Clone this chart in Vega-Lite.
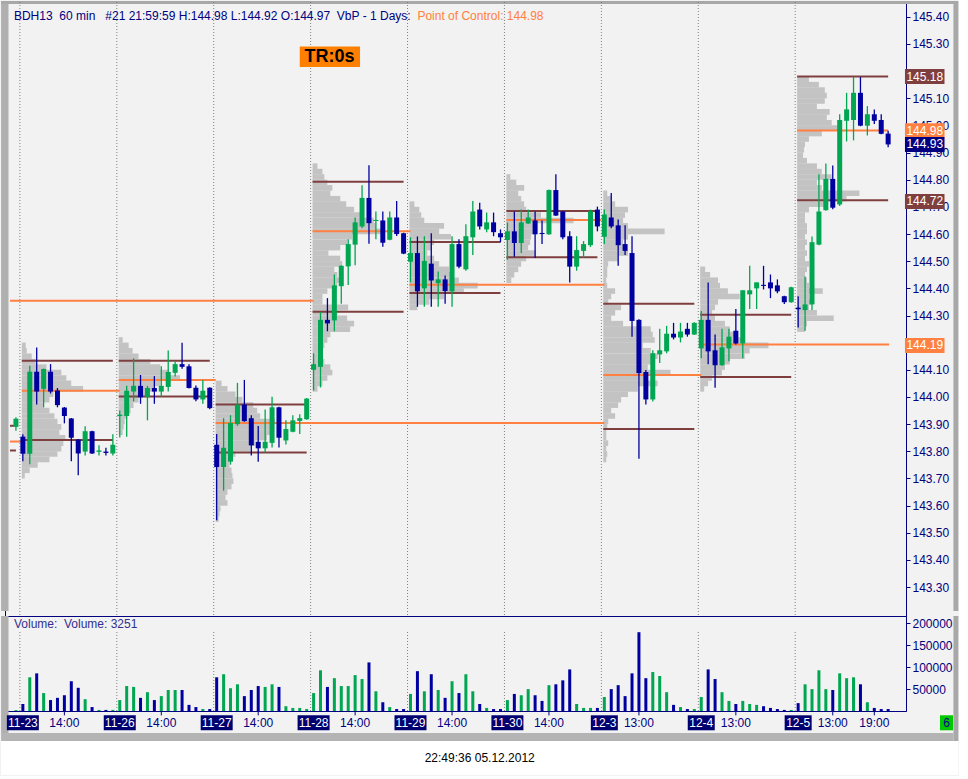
{
"$schema":"https://vega.github.io/schema/vega-lite/v6.json",
"background":"#f2f2f2",
"padding":0,
"autosize":{"type":"pad"},
"spacing":0,
"bounds":"flush",
"config":{"view":{"stroke":"#000080","fill":"#f2f2f2","strokeWidth":1},"font":"Liberation Sans"},
"datasets":{
"bars":[
{"i":0,"o":143.89,"h":143.925,"l":143.876,"c":143.92,"v":2000,"d":"g"},
{"i":1,"o":143.854,"h":143.863,"l":143.763,"c":143.791,"v":16000,"d":"b"},
{"i":2,"o":143.791,"h":144.115,"l":143.752,"c":144.093,"v":77000,"d":"g"},
{"i":3,"o":144.093,"h":144.182,"l":143.972,"c":144.02,"v":86000,"d":"b"},
{"i":4,"o":144.03,"h":144.105,"l":143.962,"c":144.103,"v":41000,"d":"g"},
{"i":5,"o":144.093,"h":144.121,"l":144.013,"c":144.02,"v":25000,"d":"b"},
{"i":6,"o":144.024,"h":144.033,"l":143.962,"c":143.97,"v":30000,"d":"b"},
{"i":7,"o":143.961,"h":143.963,"l":143.903,"c":143.93,"v":36000,"d":"b"},
{"i":8,"o":143.921,"h":143.923,"l":143.763,"c":143.85,"v":68000,"d":"b"},
{"i":9,"o":143.843,"h":143.845,"l":143.712,"c":143.792,"v":53000,"d":"b"},
{"i":10,"o":143.799,"h":143.892,"l":143.785,"c":143.874,"v":27000,"d":"g"},
{"i":11,"o":143.874,"h":143.876,"l":143.79,"c":143.792,"v":9000,"d":"b"},
{"i":12,"o":143.798,"h":143.822,"l":143.785,"c":143.803,"v":2500,"d":"g"},
{"i":13,"o":143.799,"h":143.813,"l":143.785,"c":143.794,"v":2500,"d":"b"},
{"i":14,"o":143.792,"h":143.863,"l":143.785,"c":143.824,"v":2500,"d":"g"},
{"i":15,"o":143.93,"h":143.95,"l":143.851,"c":143.935,"v":25000,"d":"g"},
{"i":16,"o":143.93,"h":144.041,"l":143.854,"c":144.023,"v":57000,"d":"g"},
{"i":17,"o":144.02,"h":144.142,"l":143.984,"c":144.041,"v":55000,"d":"g"},
{"i":18,"o":144.041,"h":144.081,"l":143.975,"c":143.999,"v":30000,"d":"b"},
{"i":19,"o":143.999,"h":144.041,"l":143.914,"c":144.033,"v":43000,"d":"g"},
{"i":20,"o":144.033,"h":144.077,"l":143.975,"c":144.02,"v":25000,"d":"b"},
{"i":21,"o":144.02,"h":144.113,"l":144.002,"c":144.041,"v":34000,"d":"g"},
{"i":22,"o":144.037,"h":144.171,"l":144.02,"c":144.092,"v":48000,"d":"g"},
{"i":23,"o":144.089,"h":144.132,"l":144.075,"c":144.121,"v":48000,"d":"g"},
{"i":24,"o":144.121,"h":144.2,"l":144.104,"c":144.111,"v":48000,"d":"b"},
{"i":25,"o":144.113,"h":144.121,"l":144.031,"c":144.033,"v":14000,"d":"b"},
{"i":26,"o":144.034,"h":144.042,"l":143.984,"c":143.991,"v":9000,"d":"b"},
{"i":27,"o":143.991,"h":144.063,"l":143.975,"c":144.023,"v":4500,"d":"g"},
{"i":28,"o":144.034,"h":144.036,"l":143.955,"c":143.959,"v":4500,"d":"b"},
{"i":29,"o":143.824,"h":143.864,"l":143.546,"c":143.742,"v":77000,"d":"b"},
{"i":30,"o":143.742,"h":143.922,"l":143.655,"c":143.813,"v":84000,"d":"g"},
{"i":31,"o":143.762,"h":143.933,"l":143.751,"c":143.904,"v":52000,"d":"g"},
{"i":32,"o":143.9,"h":144.052,"l":143.894,"c":143.972,"v":61000,"d":"g"},
{"i":33,"o":143.972,"h":144.063,"l":143.909,"c":143.911,"v":34000,"d":"b"},
{"i":34,"o":143.922,"h":143.933,"l":143.785,"c":143.822,"v":48000,"d":"b"},
{"i":35,"o":143.835,"h":143.893,"l":143.762,"c":143.811,"v":57000,"d":"b"},
{"i":36,"o":143.811,"h":143.954,"l":143.796,"c":143.835,"v":55000,"d":"g"},
{"i":37,"o":143.831,"h":144.001,"l":143.814,"c":143.962,"v":61000,"d":"g"},
{"i":38,"o":143.962,"h":143.964,"l":143.814,"c":143.85,"v":55000,"d":"b"},
{"i":39,"o":143.84,"h":143.914,"l":143.825,"c":143.882,"v":11000,"d":"g"},
{"i":40,"o":143.872,"h":143.933,"l":143.87,"c":143.914,"v":7000,"d":"g"},
{"i":41,"o":143.912,"h":143.936,"l":143.864,"c":143.922,"v":7000,"d":"g"},
{"i":42,"o":143.918,"h":143.996,"l":143.916,"c":143.994,"v":4500,"d":"g"},
{"i":43,"o":144.1,"h":144.161,"l":144.024,"c":144.121,"v":41000,"d":"g"},
{"i":44,"o":144.111,"h":144.313,"l":144.035,"c":144.284,"v":93000,"d":"g"},
{"i":45,"o":144.284,"h":144.364,"l":144.242,"c":144.271,"v":55000,"d":"b"},
{"i":46,"o":144.282,"h":144.451,"l":144.242,"c":144.411,"v":75000,"d":"g"},
{"i":47,"o":144.408,"h":144.485,"l":144.343,"c":144.483,"v":57000,"d":"g"},
{"i":48,"o":144.481,"h":144.581,"l":144.412,"c":144.563,"v":57000,"d":"g"},
{"i":49,"o":144.561,"h":144.661,"l":144.485,"c":144.643,"v":82000,"d":"g"},
{"i":50,"o":144.628,"h":144.78,"l":144.621,"c":144.733,"v":73000,"d":"g"},
{"i":51,"o":144.733,"h":144.853,"l":144.564,"c":144.64,"v":111000,"d":"b"},
{"i":52,"o":144.648,"h":144.683,"l":144.581,"c":144.652,"v":45000,"d":"g"},
{"i":53,"o":144.65,"h":144.683,"l":144.553,"c":144.568,"v":20000,"d":"b"},
{"i":54,"o":144.579,"h":144.683,"l":144.577,"c":144.661,"v":9000,"d":"g"},
{"i":55,"o":144.661,"h":144.722,"l":144.593,"c":144.6,"v":4500,"d":"b"},
{"i":56,"o":144.603,"h":144.605,"l":144.526,"c":144.528,"v":4500,"d":"b"},
{"i":57,"o":144.498,"h":144.588,"l":144.422,"c":144.53,"v":39000,"d":"g"},
{"i":58,"o":144.53,"h":144.591,"l":144.332,"c":144.389,"v":91000,"d":"b"},
{"i":59,"o":144.4,"h":144.592,"l":144.332,"c":144.501,"v":45000,"d":"g"},
{"i":60,"o":144.491,"h":144.603,"l":144.332,"c":144.429,"v":84000,"d":"b"},
{"i":61,"o":144.419,"h":144.462,"l":144.332,"c":144.433,"v":48000,"d":"g"},
{"i":62,"o":144.433,"h":144.447,"l":144.343,"c":144.39,"v":30000,"d":"b"},
{"i":63,"o":144.389,"h":144.592,"l":144.332,"c":144.563,"v":68000,"d":"g"},
{"i":64,"o":144.563,"h":144.581,"l":144.474,"c":144.48,"v":41000,"d":"b"},
{"i":65,"o":144.47,"h":144.636,"l":144.465,"c":144.592,"v":84000,"d":"g"},
{"i":66,"o":144.588,"h":144.722,"l":144.523,"c":144.683,"v":45000,"d":"g"},
{"i":67,"o":144.69,"h":144.715,"l":144.617,"c":144.628,"v":16000,"d":"b"},
{"i":68,"o":144.617,"h":144.679,"l":144.607,"c":144.643,"v":7000,"d":"g"},
{"i":69,"o":144.643,"h":144.679,"l":144.592,"c":144.607,"v":4500,"d":"b"},
{"i":70,"o":144.603,"h":144.617,"l":144.57,"c":144.588,"v":4500,"d":"b"},
{"i":71,"o":144.578,"h":144.643,"l":144.505,"c":144.61,"v":25000,"d":"g"},
{"i":72,"o":144.61,"h":144.683,"l":144.516,"c":144.567,"v":39000,"d":"b"},
{"i":73,"o":144.567,"h":144.69,"l":144.53,"c":144.643,"v":36000,"d":"g"},
{"i":74,"o":144.639,"h":144.69,"l":144.637,"c":144.661,"v":50000,"d":"g"},
{"i":75,"o":144.65,"h":144.683,"l":144.512,"c":144.599,"v":36000,"d":"b"},
{"i":76,"o":144.604,"h":144.65,"l":144.563,"c":144.6,"v":23000,"d":"b"},
{"i":77,"o":144.599,"h":144.764,"l":144.597,"c":144.762,"v":59000,"d":"g"},
{"i":78,"o":144.762,"h":144.82,"l":144.666,"c":144.668,"v":61000,"d":"b"},
{"i":79,"o":144.683,"h":144.685,"l":144.581,"c":144.588,"v":70000,"d":"b"},
{"i":80,"o":144.592,"h":144.61,"l":144.422,"c":144.48,"v":95000,"d":"b"},
{"i":81,"o":144.48,"h":144.592,"l":144.465,"c":144.541,"v":16000,"d":"g"},
{"i":82,"o":144.538,"h":144.574,"l":144.512,"c":144.563,"v":7000,"d":"g"},
{"i":83,"o":144.559,"h":144.69,"l":144.552,"c":144.683,"v":7000,"d":"g"},
{"i":84,"o":144.69,"h":144.701,"l":144.61,"c":144.628,"v":7000,"d":"b"},
{"i":85,"o":144.59,"h":144.69,"l":144.563,"c":144.672,"v":32000,"d":"g"},
{"i":86,"o":144.661,"h":144.751,"l":144.621,"c":144.628,"v":50000,"d":"b"},
{"i":87,"o":144.632,"h":144.654,"l":144.483,"c":144.559,"v":59000,"d":"b"},
{"i":88,"o":144.563,"h":144.632,"l":144.523,"c":144.538,"v":34000,"d":"b"},
{"i":89,"o":144.53,"h":144.592,"l":144.222,"c":144.28,"v":86000,"d":"b"},
{"i":90,"o":144.284,"h":144.286,"l":143.773,"c":144.088,"v":180000,"d":"b"},
{"i":91,"o":144.092,"h":144.099,"l":143.972,"c":143.991,"v":75000,"d":"b"},
{"i":92,"o":143.991,"h":144.172,"l":143.983,"c":144.161,"v":89000,"d":"g"},
{"i":93,"o":144.157,"h":144.251,"l":144.125,"c":144.172,"v":80000,"d":"g"},
{"i":94,"o":144.168,"h":144.262,"l":144.161,"c":144.233,"v":43000,"d":"g"},
{"i":95,"o":144.233,"h":144.273,"l":144.212,"c":144.219,"v":14000,"d":"b"},
{"i":96,"o":144.219,"h":144.273,"l":144.201,"c":144.241,"v":9000,"d":"g"},
{"i":97,"o":144.251,"h":144.273,"l":144.222,"c":144.23,"v":4500,"d":"b"},
{"i":98,"o":144.23,"h":144.275,"l":144.228,"c":144.273,"v":4500,"d":"g"},
{"i":99,"o":144.179,"h":144.317,"l":144.143,"c":144.284,"v":32000,"d":"g"},
{"i":100,"o":144.284,"h":144.422,"l":144.121,"c":144.168,"v":95000,"d":"b"},
{"i":101,"o":144.172,"h":144.23,"l":144.034,"c":144.117,"v":73000,"d":"b"},
{"i":102,"o":144.117,"h":144.251,"l":144.115,"c":144.183,"v":43000,"d":"g"},
{"i":103,"o":144.179,"h":144.251,"l":144.132,"c":144.222,"v":23000,"d":"g"},
{"i":104,"o":144.244,"h":144.324,"l":144.193,"c":144.197,"v":16000,"d":"b"},
{"i":105,"o":144.197,"h":144.393,"l":144.143,"c":144.393,"v":23000,"d":"g"},
{"i":106,"o":144.378,"h":144.483,"l":144.324,"c":144.393,"v":16000,"d":"g"},
{"i":107,"o":144.4,"h":144.422,"l":144.324,"c":144.422,"v":14000,"d":"g"},
{"i":108,"o":144.413,"h":144.483,"l":144.396,"c":144.409,"v":11000,"d":"b"},
{"i":109,"o":144.422,"h":144.451,"l":144.364,"c":144.4,"v":7000,"d":"b"},
{"i":110,"o":144.411,"h":144.433,"l":144.382,"c":144.389,"v":4500,"d":"b"},
{"i":111,"o":144.371,"h":144.373,"l":144.342,"c":144.349,"v":2500,"d":"b"},
{"i":112,"o":144.349,"h":144.406,"l":144.347,"c":144.404,"v":2500,"d":"g"},
{"i":113,"o":144.329,"h":144.371,"l":144.256,"c":144.323,"v":18000,"d":"b"},
{"i":114,"o":144.32,"h":144.444,"l":144.244,"c":144.341,"v":61000,"d":"g"},
{"i":115,"o":144.341,"h":144.591,"l":144.32,"c":144.57,"v":50000,"d":"g"},
{"i":116,"o":144.561,"h":144.82,"l":144.559,"c":144.683,"v":93000,"d":"g"},
{"i":117,"o":144.688,"h":144.86,"l":144.686,"c":144.803,"v":50000,"d":"g"},
{"i":118,"o":144.803,"h":144.852,"l":144.691,"c":144.697,"v":48000,"d":"b"},
{"i":119,"o":144.709,"h":145.041,"l":144.703,"c":145.02,"v":86000,"d":"g"},
{"i":120,"o":145.017,"h":145.12,"l":144.941,"c":145.059,"v":75000,"d":"g"},
{"i":121,"o":145.02,"h":145.178,"l":144.945,"c":145.12,"v":77000,"d":"g"},
{"i":122,"o":145.12,"h":145.178,"l":144.997,"c":144.999,"v":61000,"d":"b"},
{"i":123,"o":144.999,"h":145.071,"l":144.963,"c":145.041,"v":20000,"d":"g"},
{"i":124,"o":145.041,"h":145.059,"l":145.005,"c":145.017,"v":7000,"d":"b"},
{"i":125,"o":145.02,"h":145.041,"l":144.967,"c":144.969,"v":4500,"d":"b"},
{"i":126,"o":144.97,"h":144.98,"l":144.92,"c":144.93,"v":4500,"d":"b"}
],
"prof":[
{"s":0.85,"e":1.42,"p":144.19},{"s":0.85,"e":1.56,"p":144.17},{"s":0.85,"e":2.28,"p":144.15},{"s":0.85,"e":2.85,"p":144.13},{"s":0.85,"e":4.42,"p":144.11},{"s":0.85,"e":6.56,"p":144.09},{"s":0.85,"e":7.28,"p":144.07},{"s":0.85,"e":7.99,"p":144.05},{"s":0.85,"e":9.71,"p":144.03},{"s":0.85,"e":5.42,"p":144.01},{"s":0.85,"e":4.85,"p":143.99},{"s":0.85,"e":4.0,"p":143.97},{"s":0.85,"e":4.85,"p":143.95},{"s":0.85,"e":5.56,"p":143.93},{"s":0.85,"e":6.0,"p":143.91},{"s":0.85,"e":6.56,"p":143.89},{"s":0.85,"e":6.28,"p":143.87},{"s":0.85,"e":7.14,"p":143.85},{"s":0.85,"e":6.85,"p":143.83},{"s":0.85,"e":6.56,"p":143.81},{"s":0.85,"e":6.0,"p":143.79},{"s":0.85,"e":4.85,"p":143.77},{"s":0.85,"e":3.14,"p":143.75},{"s":0.85,"e":1.99,"p":143.73},{"s":0.85,"e":1.28,"p":143.71},
{"s":14.85,"e":15.42,"p":144.21},{"s":14.85,"e":16.28,"p":144.19},{"s":14.85,"e":16.85,"p":144.17},{"s":14.85,"e":17.71,"p":144.15},{"s":14.85,"e":19.42,"p":144.13},{"s":14.85,"e":20.85,"p":144.11},{"s":14.85,"e":21.99,"p":144.09},{"s":14.85,"e":23.71,"p":144.07},{"s":14.85,"e":20.85,"p":144.05},{"s":14.85,"e":19.99,"p":144.03},{"s":14.85,"e":18.85,"p":144.01},{"s":14.85,"e":17.71,"p":143.99},{"s":14.85,"e":16.99,"p":143.97},{"s":14.85,"e":16.56,"p":143.95},{"s":14.85,"e":15.99,"p":143.93},{"s":14.85,"e":15.71,"p":143.91},{"s":14.85,"e":15.56,"p":143.89},{"s":14.85,"e":15.42,"p":143.87},
{"s":28.85,"e":29.71,"p":144.05},{"s":28.85,"e":30.56,"p":144.03},{"s":28.85,"e":31.71,"p":144.01},{"s":28.85,"e":32.71,"p":143.99},{"s":28.85,"e":34.28,"p":143.97},{"s":28.85,"e":34.85,"p":143.95},{"s":28.85,"e":35.28,"p":143.93},{"s":28.85,"e":37.42,"p":143.91},{"s":28.85,"e":36.71,"p":143.89},{"s":28.85,"e":36.71,"p":143.87},{"s":28.85,"e":36.28,"p":143.85},{"s":28.85,"e":34.56,"p":143.83},{"s":28.85,"e":33.85,"p":143.81},{"s":28.85,"e":31.71,"p":143.79},{"s":28.85,"e":30.85,"p":143.77},{"s":28.85,"e":30.85,"p":143.75},{"s":28.85,"e":31.14,"p":143.73},{"s":28.85,"e":31.28,"p":143.71},{"s":28.85,"e":31.42,"p":143.69},{"s":28.85,"e":31.14,"p":143.67},{"s":28.85,"e":30.56,"p":143.65},{"s":28.85,"e":30.28,"p":143.63},{"s":28.85,"e":30.56,"p":143.61},{"s":28.85,"e":29.56,"p":143.59},{"s":28.85,"e":29.42,"p":143.57},{"s":28.85,"e":29.28,"p":143.55},
{"s":42.85,"e":43.56,"p":144.85},{"s":42.85,"e":44.28,"p":144.83},{"s":42.85,"e":44.56,"p":144.81},{"s":42.85,"e":44.99,"p":144.79},{"s":42.85,"e":45.71,"p":144.77},{"s":42.85,"e":45.42,"p":144.75},{"s":42.85,"e":46.85,"p":144.73},{"s":42.85,"e":47.71,"p":144.71},{"s":42.85,"e":48.85,"p":144.69},{"s":42.85,"e":50.28,"p":144.67},{"s":42.85,"e":51.71,"p":144.65},{"s":42.85,"e":51.99,"p":144.63},{"s":42.85,"e":52.85,"p":144.61},{"s":42.85,"e":48.56,"p":144.59},{"s":42.85,"e":47.85,"p":144.57},{"s":42.85,"e":46.85,"p":144.55},{"s":42.85,"e":45.14,"p":144.53},{"s":42.85,"e":46.85,"p":144.51},{"s":42.85,"e":47.14,"p":144.49},{"s":42.85,"e":45.99,"p":144.47},{"s":42.85,"e":46.42,"p":144.45},{"s":42.85,"e":46.85,"p":144.43},{"s":42.85,"e":46.42,"p":144.41},{"s":42.85,"e":44.99,"p":144.39},{"s":42.85,"e":44.28,"p":144.37},{"s":42.85,"e":44.28,"p":144.35},{"s":42.85,"e":47.99,"p":144.33},{"s":42.85,"e":46.42,"p":144.31},{"s":42.85,"e":47.85,"p":144.29},{"s":42.85,"e":48.85,"p":144.27},{"s":42.85,"e":48.28,"p":144.25},{"s":42.85,"e":45.42,"p":144.23},{"s":42.85,"e":44.99,"p":144.21},{"s":42.85,"e":44.56,"p":144.19},{"s":42.85,"e":44.28,"p":144.17},{"s":42.85,"e":44.28,"p":144.15},{"s":42.85,"e":44.56,"p":144.13},{"s":42.85,"e":45.42,"p":144.11},{"s":42.85,"e":45.71,"p":144.09},{"s":42.85,"e":44.99,"p":144.07},{"s":42.85,"e":44.28,"p":144.05},{"s":42.85,"e":43.56,"p":144.03},
{"s":56.85,"e":57.56,"p":144.71},{"s":56.85,"e":58.28,"p":144.69},{"s":56.85,"e":58.56,"p":144.67},{"s":56.85,"e":58.99,"p":144.65},{"s":56.85,"e":61.85,"p":144.63},{"s":56.85,"e":61.14,"p":144.61},{"s":56.85,"e":62.85,"p":144.59},{"s":56.85,"e":60.42,"p":144.57},{"s":56.85,"e":59.99,"p":144.55},{"s":56.85,"e":59.42,"p":144.53},{"s":56.85,"e":60.42,"p":144.51},{"s":56.85,"e":61.14,"p":144.49},{"s":56.85,"e":62.56,"p":144.47},{"s":56.85,"e":63.28,"p":144.45},{"s":56.85,"e":63.99,"p":144.43},{"s":56.85,"e":66.71,"p":144.41},{"s":56.85,"e":64.71,"p":144.39},{"s":56.85,"e":61.85,"p":144.37},{"s":56.85,"e":59.71,"p":144.35},{"s":56.85,"e":57.99,"p":144.33},
{"s":70.85,"e":71.42,"p":144.81},{"s":70.85,"e":72.28,"p":144.79},{"s":70.85,"e":73.42,"p":144.77},{"s":70.85,"e":72.56,"p":144.75},{"s":70.85,"e":72.99,"p":144.73},{"s":70.85,"e":73.42,"p":144.71},{"s":70.85,"e":73.71,"p":144.69},{"s":70.85,"e":75.85,"p":144.67},{"s":70.85,"e":80.56,"p":144.65},{"s":70.85,"e":75.14,"p":144.63},{"s":70.85,"e":74.85,"p":144.61},{"s":70.85,"e":74.42,"p":144.59},{"s":70.85,"e":74.28,"p":144.57},{"s":70.85,"e":73.99,"p":144.55},{"s":70.85,"e":75.14,"p":144.53},{"s":70.85,"e":73.71,"p":144.51},{"s":70.85,"e":72.99,"p":144.49},{"s":70.85,"e":72.56,"p":144.47},{"s":70.85,"e":71.99,"p":144.45},{"s":70.85,"e":71.56,"p":144.43},
{"s":84.85,"e":85.42,"p":144.75},{"s":84.85,"e":85.99,"p":144.73},{"s":84.85,"e":86.56,"p":144.71},{"s":84.85,"e":88.42,"p":144.69},{"s":84.85,"e":87.99,"p":144.67},{"s":84.85,"e":87.71,"p":144.65},{"s":84.85,"e":88.42,"p":144.63},{"s":84.85,"e":93.71,"p":144.61},{"s":84.85,"e":88.42,"p":144.59},{"s":84.85,"e":87.71,"p":144.57},{"s":84.85,"e":87.99,"p":144.55},{"s":84.85,"e":88.42,"p":144.53},{"s":84.85,"e":86.99,"p":144.51},{"s":84.85,"e":85.56,"p":144.49},{"s":84.85,"e":85.42,"p":144.47},{"s":84.85,"e":85.42,"p":144.45},{"s":84.85,"e":85.28,"p":144.43},{"s":84.85,"e":85.42,"p":144.41},{"s":84.85,"e":86.56,"p":144.39},{"s":84.85,"e":85.99,"p":144.37},{"s":84.85,"e":85.56,"p":144.35},{"s":84.85,"e":87.42,"p":144.33},{"s":84.85,"e":86.56,"p":144.31},{"s":84.85,"e":85.99,"p":144.29},{"s":84.85,"e":87.71,"p":144.27},{"s":84.85,"e":91.71,"p":144.25},{"s":84.85,"e":91.99,"p":144.23},{"s":84.85,"e":92.28,"p":144.21},{"s":84.85,"e":90.56,"p":144.19},{"s":84.85,"e":91.71,"p":144.17},{"s":84.85,"e":92.71,"p":144.15},{"s":84.85,"e":91.99,"p":144.13},{"s":84.85,"e":91.28,"p":144.11},{"s":84.85,"e":94.56,"p":144.09},{"s":84.85,"e":91.28,"p":144.07},{"s":84.85,"e":92.71,"p":144.05},{"s":84.85,"e":89.85,"p":144.03},{"s":84.85,"e":88.42,"p":144.01},{"s":84.85,"e":87.42,"p":143.99},{"s":84.85,"e":86.99,"p":143.97},{"s":84.85,"e":85.99,"p":143.95},{"s":84.85,"e":86.56,"p":143.93},{"s":84.85,"e":85.56,"p":143.91},{"s":84.85,"e":85.42,"p":143.89},{"s":84.85,"e":85.28,"p":143.87},{"s":84.85,"e":85.28,"p":143.85},{"s":84.85,"e":85.56,"p":143.83},{"s":84.85,"e":85.28,"p":143.81},{"s":84.85,"e":85.42,"p":143.79},{"s":84.85,"e":85.28,"p":143.77},
{"s":98.85,"e":99.56,"p":144.47},{"s":98.85,"e":100.28,"p":144.45},{"s":98.85,"e":101.42,"p":144.43},{"s":98.85,"e":101.71,"p":144.41},{"s":98.85,"e":102.85,"p":144.39},{"s":98.85,"e":104.56,"p":144.37},{"s":98.85,"e":101.42,"p":144.35},{"s":98.85,"e":100.99,"p":144.33},{"s":98.85,"e":100.56,"p":144.31},{"s":98.85,"e":100.99,"p":144.29},{"s":98.85,"e":102.42,"p":144.27},{"s":98.85,"e":103.14,"p":144.25},{"s":98.85,"e":103.85,"p":144.23},{"s":98.85,"e":105.28,"p":144.21},{"s":98.85,"e":108.71,"p":144.19},{"s":98.85,"e":105.99,"p":144.17},{"s":98.85,"e":105.28,"p":144.15},{"s":98.85,"e":103.14,"p":144.13},{"s":98.85,"e":102.42,"p":144.11},{"s":98.85,"e":101.99,"p":144.09},{"s":98.85,"e":100.56,"p":144.07},{"s":98.85,"e":99.99,"p":144.05},{"s":98.85,"e":99.42,"p":144.03},
{"s":112.85,"e":114.56,"p":145.17},{"s":112.85,"e":115.99,"p":145.15},{"s":112.85,"e":116.85,"p":145.13},{"s":112.85,"e":117.14,"p":145.11},{"s":112.85,"e":116.85,"p":145.09},{"s":112.85,"e":115.71,"p":145.07},{"s":112.85,"e":117.56,"p":145.05},{"s":112.85,"e":117.14,"p":145.03},{"s":112.85,"e":117.85,"p":145.01},{"s":112.85,"e":119.28,"p":144.99},{"s":112.85,"e":116.42,"p":144.97},{"s":112.85,"e":114.56,"p":144.95},{"s":112.85,"e":113.99,"p":144.93},{"s":112.85,"e":113.85,"p":144.91},{"s":112.85,"e":113.71,"p":144.89},{"s":112.85,"e":114.28,"p":144.87},{"s":112.85,"e":115.71,"p":144.85},{"s":112.85,"e":116.42,"p":144.83},{"s":112.85,"e":117.85,"p":144.81},{"s":112.85,"e":115.71,"p":144.79},{"s":112.85,"e":116.42,"p":144.77},{"s":112.85,"e":121.85,"p":144.75},{"s":112.85,"e":119.99,"p":144.73},{"s":112.85,"e":117.14,"p":144.71},{"s":112.85,"e":114.56,"p":144.69},{"s":112.85,"e":113.99,"p":144.67},{"s":112.85,"e":113.99,"p":144.65},{"s":112.85,"e":114.28,"p":144.63},{"s":112.85,"e":114.28,"p":144.61},{"s":112.85,"e":113.99,"p":144.59},{"s":112.85,"e":114.28,"p":144.57},{"s":112.85,"e":113.99,"p":144.55},{"s":112.85,"e":114.28,"p":144.53},{"s":112.85,"e":113.99,"p":144.51},{"s":112.85,"e":114.56,"p":144.49},{"s":112.85,"e":114.28,"p":144.47},{"s":112.85,"e":113.99,"p":144.45},{"s":112.85,"e":114.28,"p":144.43},{"s":112.85,"e":114.56,"p":144.41},{"s":112.85,"e":116.56,"p":144.39},{"s":112.85,"e":114.56,"p":144.37},{"s":112.85,"e":114.99,"p":144.35},{"s":112.85,"e":114.56,"p":144.33},{"s":112.85,"e":115.71,"p":144.31},{"s":112.85,"e":118.14,"p":144.29},{"s":112.85,"e":114.28,"p":144.27},{"s":112.85,"e":113.99,"p":144.25}
],
"lev":[
{"a":-0.857,"b":-0.29,"p":143.894,"k":"va"},
{"a":-0.857,"b":0.71,"p":143.836,"k":"poc"},
{"a":-0.857,"b":0,"p":143.803,"k":"va"},
{"a":-0.857,"b":43,"p":144.354,"k":"poc"},
{"a":0.85,"b":14,"p":144.133,"k":"va"},
{"a":0.85,"b":15,"p":144.023,"k":"poc"},
{"a":0.85,"b":14,"p":143.842,"k":"va"},
{"a":14.85,"b":28,"p":144.133,"k":"va"},
{"a":14.85,"b":28.86,"p":144.063,"k":"poc"},
{"a":14.85,"b":28,"p":144.002,"k":"va"},
{"a":28.85,"b":42,"p":143.972,"k":"va"},
{"a":28.85,"b":85,"p":143.904,"k":"poc"},
{"a":28.85,"b":42,"p":143.796,"k":"va"},
{"a":42.85,"b":56,"p":144.793,"k":"va"},
{"a":42.85,"b":57,"p":144.61,"k":"poc"},
{"a":42.85,"b":56,"p":144.314,"k":"va"},
{"a":56.85,"b":70,"p":144.571,"k":"va"},
{"a":56.85,"b":85,"p":144.413,"k":"poc"},
{"a":56.85,"b":70,"p":144.383,"k":"va"},
{"a":70.85,"b":84,"p":144.685,"k":"va"},
{"a":70.85,"b":84.57,"p":144.652,"k":"poc"},
{"a":70.85,"b":84,"p":144.515,"k":"va"},
{"a":84.85,"b":98,"p":144.343,"k":"va"},
{"a":84.85,"b":99,"p":144.081,"k":"poc"},
{"a":84.85,"b":98,"p":143.882,"k":"va"},
{"a":98.85,"b":112,"p":144.303,"k":"va"},
{"a":98.85,"b":126.14,"p":144.193,"k":"poc"},
{"a":98.85,"b":112,"p":144.074,"k":"va"},
{"a":112.85,"b":126,"p":145.18,"k":"va"},
{"a":112.85,"b":126,"p":144.981,"k":"poc"},
{"a":112.85,"b":126,"p":144.724,"k":"va"}
],
"sep":[{"i":0.571},{"i":14.571},{"i":28.571},{"i":42.571},{"i":56.571},{"i":70.571},{"i":84.571},{"i":98.571},{"i":112.571}],
"hdr":[
{"i":-0.286,"p":145.404,"t":"BDH13\u00a0 60 min\u00a0\u00a0 #21 21:59:59 H:144.98 L:144.92 O:144.97\u00a0 VbP - 1 Days:","k":"hdr"},
{"i":58.0,"p":145.404,"t":"Point of Control: 144.98","k":"poc"}
],
"tr":[{"i":45.29,"p":145.253,"t":"TR:0s"}],
"tags":[
{"p":145.18,"t":"145.18","k":"va"},
{"p":144.98,"t":"144.98","k":"poc"},
{"p":144.93,"t":"144.93","k":"last"},
{"p":144.72,"t":"144.72","k":"va"},
{"p":144.19,"t":"144.19","k":"poc"}
],
"xl":[
{"i":1,"t":"11-23","k":"date"},{"i":7,"t":"14:00","k":"hour"},
{"i":15,"t":"11-26","k":"date"},{"i":21,"t":"14:00","k":"hour"},
{"i":29,"t":"11-27","k":"date"},{"i":35,"t":"14:00","k":"hour"},
{"i":43,"t":"11-28","k":"date"},{"i":49,"t":"14:00","k":"hour"},
{"i":57,"t":"11-29","k":"date"},{"i":63,"t":"14:00","k":"hour"},
{"i":71,"t":"11-30","k":"date"},{"i":77,"t":"14:00","k":"hour"},
{"i":85,"t":"12-3","k":"date"},{"i":90,"t":"13:00","k":"hour"},
{"i":99,"t":"12-4","k":"date"},{"i":104,"t":"13:00","k":"hour"},
{"i":113,"t":"12-5","k":"date"},{"i":118,"t":"13:00","k":"hour"},{"i":124,"t":"19:00","k":"hour"}
],
"vt":[{"i":-0.286,"v":198700,"t":"Volume:\u00a0 Volume: 3251"}],
"ts":[{"i":67,"v":-107358,"t":"22:49:36 05.12.2012"}],
"badge":[{"i":134.43,"t":"6"}]
},
"vconcat":[
{
"width":901,"height":614,
"layer":[
{"data":{"values":[{}]},"mark":{"type":"rect","color":"#b0b0b0"},
 "encoding":{"x":{"datum":-2.143,"scale":{"domain":[-0.857,127.857],"nice":false,"zero":false},"axis":null},"x2":{"datum":-1.071},
 "y":{"datum":145.458,"scale":{"domain":[143.212,145.436],"nice":false,"zero":false},"axis":{"orient":"right","values":[143.3,143.4,143.5,143.6,143.7,143.8,143.9,144.0,144.1,144.2,144.3,144.4,144.5,144.6,144.7,144.8,144.9,145.0,145.1,145.2,145.3,145.4],"format":".2f","labelExpr":"abs(datum.value-145.2)<0.001||abs(datum.value-144.2)<0.001?'':datum.label","grid":false,"title":null,"labelColor":"#000080","tickColor":"#000080","domainColor":"#000080","tickSize":4,"labelFontSize":12,"labelPadding":2,"labelFlush":false,"labelOverlap":false}},"y2":{"datum":143.212}}},
{"data":{"values":[{}]},"mark":{"type":"rect","color":"#a8a8a8"},
 "encoding":{"x":{"datum":-2.143,"scale":{"domain":[-0.857,127.857],"nice":false,"zero":false},"axis":null},"x2":{"datum":135.71},
 "y":{"datum":145.458,"scale":{"domain":[143.212,145.436],"nice":false,"zero":false},"axis":{"orient":"right","values":[143.3,143.4,143.5,143.6,143.7,143.8,143.9,144.0,144.1,144.2,144.3,144.4,144.5,144.6,144.7,144.8,144.9,145.0,145.1,145.2,145.3,145.4],"format":".2f","labelExpr":"abs(datum.value-145.2)<0.001||abs(datum.value-144.2)<0.001?'':datum.label","grid":false,"title":null,"labelColor":"#000080","tickColor":"#000080","domainColor":"#000080","tickSize":4,"labelFontSize":12,"labelPadding":2,"labelFlush":false,"labelOverlap":false}},"y2":{"datum":145.447}}},
{"data":{"values":[{}]},"mark":{"type":"rect","color":"#a8a8a8"},
 "encoding":{"x":{"datum":135.43,"scale":{"domain":[-0.857,127.857],"nice":false,"zero":false},"axis":null},"x2":{"datum":136.143},
 "y":{"datum":145.458,"scale":{"domain":[143.212,145.436],"nice":false,"zero":false},"axis":{"orient":"right","values":[143.3,143.4,143.5,143.6,143.7,143.8,143.9,144.0,144.1,144.2,144.3,144.4,144.5,144.6,144.7,144.8,144.9,145.0,145.1,145.2,145.3,145.4],"format":".2f","labelExpr":"abs(datum.value-145.2)<0.001||abs(datum.value-144.2)<0.001?'':datum.label","grid":false,"title":null,"labelColor":"#000080","tickColor":"#000080","domainColor":"#000080","tickSize":4,"labelFontSize":12,"labelPadding":2,"labelFlush":false,"labelOverlap":false}},"y2":{"datum":143.212}}},
{"data":{"name":"sep"},"mark":{"type":"rule","color":"#808080","strokeDash":[1,2],"strokeWidth":1},
 "encoding":{"x":{"field":"i","type":"quantitative","scale":{"domain":[-0.857,127.857],"nice":false,"zero":false},"axis":null,"title":null}}},
{"data":{"name":"prof"},"mark":{"type":"bar","size":5.6,"color":"#c3c3c3"},
 "encoding":{"x":{"field":"s","type":"quantitative","scale":{"domain":[-0.857,127.857],"nice":false,"zero":false},"axis":null,"title":null},"x2":{"field":"e"},
 "y":{"field":"p","type":"quantitative","scale":{"domain":[143.212,145.436],"nice":false,"zero":false},"title":null,"axis":{"orient":"right","values":[143.3,143.4,143.5,143.6,143.7,143.8,143.9,144.0,144.1,144.2,144.3,144.4,144.5,144.6,144.7,144.8,144.9,145.0,145.1,145.2,145.3,145.4],"format":".2f","labelExpr":"abs(datum.value-145.2)<0.001||abs(datum.value-144.2)<0.001?'':datum.label","grid":false,"title":null,"labelColor":"#000080","tickColor":"#000080","domainColor":"#000080","tickSize":4,"labelFontSize":12,"labelPadding":2,"labelFlush":false,"labelOverlap":false}}}},
{"data":{"name":"lev"},"mark":{"type":"rule","strokeWidth":2},
 "encoding":{"x":{"field":"a","type":"quantitative","scale":{"domain":[-0.857,127.857],"nice":false,"zero":false},"axis":null,"title":null},"x2":{"field":"b"},
 "y":{"field":"p","type":"quantitative","scale":{"domain":[143.212,145.436],"nice":false,"zero":false},"title":null,"axis":{"orient":"right","values":[143.3,143.4,143.5,143.6,143.7,143.8,143.9,144.0,144.1,144.2,144.3,144.4,144.5,144.6,144.7,144.8,144.9,145.0,145.1,145.2,145.3,145.4],"format":".2f","labelExpr":"abs(datum.value-145.2)<0.001||abs(datum.value-144.2)<0.001?'':datum.label","grid":false,"title":null,"labelColor":"#000080","tickColor":"#000080","domainColor":"#000080","tickSize":4,"labelFontSize":12,"labelPadding":2,"labelFlush":false,"labelOverlap":false}},
 "color":{"field":"k","type":"nominal","scale":{"domain":["g","b","va","poc","last","hdr"],"range":["#00a651","#0000a0","#7f3f3f","#ff8040","#000080","#000080"]},"legend":null}}},
{"data":{"name":"bars"},"mark":{"type":"rule","strokeWidth":1.3},
 "encoding":{"x":{"field":"i","type":"quantitative","scale":{"domain":[-0.857,127.857],"nice":false,"zero":false},"axis":null,"title":null},
 "y":{"field":"l","type":"quantitative","scale":{"domain":[143.212,145.436],"nice":false,"zero":false},"title":null,"axis":{"orient":"right","values":[143.3,143.4,143.5,143.6,143.7,143.8,143.9,144.0,144.1,144.2,144.3,144.4,144.5,144.6,144.7,144.8,144.9,145.0,145.1,145.2,145.3,145.4],"format":".2f","labelExpr":"abs(datum.value-145.2)<0.001||abs(datum.value-144.2)<0.001?'':datum.label","grid":false,"title":null,"labelColor":"#000080","tickColor":"#000080","domainColor":"#000080","tickSize":4,"labelFontSize":12,"labelPadding":2,"labelFlush":false,"labelOverlap":false}},
 "y2":{"field":"h"},
 "color":{"field":"d","type":"nominal","scale":{"domain":["g","b","va","poc","last","hdr"],"range":["#00a651","#0000a0","#7f3f3f","#ff8040","#000080","#000080"]},"legend":null}}},
{"data":{"name":"bars"},"mark":{"type":"bar","size":5},
 "encoding":{"x":{"field":"i","type":"quantitative","scale":{"domain":[-0.857,127.857],"nice":false,"zero":false},"axis":null,"title":null},
 "y":{"field":"o","type":"quantitative","scale":{"domain":[143.212,145.436],"nice":false,"zero":false},"title":null,"axis":{"orient":"right","values":[143.3,143.4,143.5,143.6,143.7,143.8,143.9,144.0,144.1,144.2,144.3,144.4,144.5,144.6,144.7,144.8,144.9,145.0,145.1,145.2,145.3,145.4],"format":".2f","labelExpr":"abs(datum.value-145.2)<0.001||abs(datum.value-144.2)<0.001?'':datum.label","grid":false,"title":null,"labelColor":"#000080","tickColor":"#000080","domainColor":"#000080","tickSize":4,"labelFontSize":12,"labelPadding":2,"labelFlush":false,"labelOverlap":false}},"y2":{"field":"c"},
 "color":{"field":"d","type":"nominal","scale":{"domain":["g","b","va","poc","last","hdr"],"range":["#00a651","#0000a0","#7f3f3f","#ff8040","#000080","#000080"]},"legend":null}}},
{"data":{"name":"hdr"},"mark":{"type":"text","align":"left","baseline":"middle","fontSize":12},
 "encoding":{"x":{"field":"i","type":"quantitative","scale":{"domain":[-0.857,127.857],"nice":false,"zero":false},"axis":null,"title":null},
 "y":{"field":"p","type":"quantitative","scale":{"domain":[143.212,145.436],"nice":false,"zero":false},"title":null,"axis":{"orient":"right","values":[143.3,143.4,143.5,143.6,143.7,143.8,143.9,144.0,144.1,144.2,144.3,144.4,144.5,144.6,144.7,144.8,144.9,145.0,145.1,145.2,145.3,145.4],"format":".2f","labelExpr":"abs(datum.value-145.2)<0.001||abs(datum.value-144.2)<0.001?'':datum.label","grid":false,"title":null,"labelColor":"#000080","tickColor":"#000080","domainColor":"#000080","tickSize":4,"labelFontSize":12,"labelPadding":2,"labelFlush":false,"labelOverlap":false}},
 "text":{"field":"t"},
 "color":{"field":"k","type":"nominal","scale":{"domain":["g","b","va","poc","last","hdr"],"range":["#00a651","#0000a0","#7f3f3f","#ff8040","#000080","#000080"]},"legend":null}}},
{"data":{"values":[{}]},"mark":{"type":"rect","color":"#ff8000"},
 "encoding":{"x":{"datum":41.0,"scale":{"domain":[-0.857,127.857],"nice":false,"zero":false},"axis":null},"x2":{"datum":49.71},
 "y":{"datum":145.291,"scale":{"domain":[143.212,145.436],"nice":false,"zero":false},"axis":{"orient":"right","values":[143.3,143.4,143.5,143.6,143.7,143.8,143.9,144.0,144.1,144.2,144.3,144.4,144.5,144.6,144.7,144.8,144.9,145.0,145.1,145.2,145.3,145.4],"format":".2f","labelExpr":"abs(datum.value-145.2)<0.001||abs(datum.value-144.2)<0.001?'':datum.label","grid":false,"title":null,"labelColor":"#000080","tickColor":"#000080","domainColor":"#000080","tickSize":4,"labelFontSize":12,"labelPadding":2,"labelFlush":false,"labelOverlap":false}},"y2":{"datum":145.215}}},
{"data":{"name":"tr"},"mark":{"type":"text","align":"center","baseline":"middle","fontSize":18,"fontWeight":"bold","color":"#000000"},
 "encoding":{"x":{"field":"i","type":"quantitative","scale":{"domain":[-0.857,127.857],"nice":false,"zero":false},"axis":null,"title":null},
 "y":{"field":"p","type":"quantitative","scale":{"domain":[143.212,145.436],"nice":false,"zero":false},"title":null,"axis":{"orient":"right","values":[143.3,143.4,143.5,143.6,143.7,143.8,143.9,144.0,144.1,144.2,144.3,144.4,144.5,144.6,144.7,144.8,144.9,145.0,145.1,145.2,145.3,145.4],"format":".2f","labelExpr":"abs(datum.value-145.2)<0.001||abs(datum.value-144.2)<0.001?'':datum.label","grid":false,"title":null,"labelColor":"#000080","tickColor":"#000080","domainColor":"#000080","tickSize":4,"labelFontSize":12,"labelPadding":2,"labelFlush":false,"labelOverlap":false}},
 "text":{"field":"t"}}},
{"data":{"name":"tags"},"mark":{"type":"bar","size":15},
 "encoding":{"x":{"datum":128.43,"scale":{"domain":[-0.857,127.857],"nice":false,"zero":false},"axis":null},"x2":{"datum":134.14},
 "y":{"field":"p","type":"quantitative","scale":{"domain":[143.212,145.436],"nice":false,"zero":false},"title":null,"axis":{"orient":"right","values":[143.3,143.4,143.5,143.6,143.7,143.8,143.9,144.0,144.1,144.2,144.3,144.4,144.5,144.6,144.7,144.8,144.9,145.0,145.1,145.2,145.3,145.4],"format":".2f","labelExpr":"abs(datum.value-145.2)<0.001||abs(datum.value-144.2)<0.001?'':datum.label","grid":false,"title":null,"labelColor":"#000080","tickColor":"#000080","domainColor":"#000080","tickSize":4,"labelFontSize":12,"labelPadding":2,"labelFlush":false,"labelOverlap":false}},
 "color":{"field":"k","type":"nominal","scale":{"domain":["g","b","va","poc","last","hdr"],"range":["#00a651","#0000a0","#7f3f3f","#ff8040","#000080","#000080"]},"legend":null}}},
{"data":{"name":"tags"},"mark":{"type":"text","align":"center","baseline":"middle","fontSize":12,"color":"#ffffff"},
 "encoding":{"x":{"datum":131.29,"scale":{"domain":[-0.857,127.857],"nice":false,"zero":false},"axis":null},
 "y":{"field":"p","type":"quantitative","scale":{"domain":[143.212,145.436],"nice":false,"zero":false},"title":null,"axis":{"orient":"right","values":[143.3,143.4,143.5,143.6,143.7,143.8,143.9,144.0,144.1,144.2,144.3,144.4,144.5,144.6,144.7,144.8,144.9,145.0,145.1,145.2,145.3,145.4],"format":".2f","labelExpr":"abs(datum.value-145.2)<0.001||abs(datum.value-144.2)<0.001?'':datum.label","grid":false,"title":null,"labelColor":"#000080","tickColor":"#000080","domainColor":"#000080","tickSize":4,"labelFontSize":12,"labelPadding":2,"labelFlush":false,"labelOverlap":false}},
 "text":{"field":"t"}}}
]
},
{
"width":901,"height":95,
"layer":[
{"data":{"values":[{}]},"mark":{"type":"rect","color":"#b0b0b0"},
 "encoding":{"x":{"datum":-2.143,"scale":{"domain":[-0.857,127.857],"nice":false,"zero":false},"axis":null},"x2":{"datum":-1.071},
 "y":{"datum":217000,"scale":{"domain":[0,217000],"nice":false,"zero":false},"axis":{"orient":"right","values":[50000,100000,150000,200000],"format":"d","grid":false,"title":null,"labelColor":"#000080","tickColor":"#000080","domainColor":"#000080","tickSize":4,"labelFontSize":12,"labelPadding":2,"labelFlush":false,"labelOverlap":false}},"y2":{"datum":-50253}}},
{"data":{"values":[{}]},"mark":{"type":"rect","color":"#a8a8a8"},
 "encoding":{"x":{"datum":135.43,"scale":{"domain":[-0.857,127.857],"nice":false,"zero":false},"axis":null},"x2":{"datum":136.143},
 "y":{"datum":217000,"scale":{"domain":[0,217000],"nice":false,"zero":false},"axis":{"orient":"right","values":[50000,100000,150000,200000],"format":"d","grid":false,"title":null,"labelColor":"#000080","tickColor":"#000080","domainColor":"#000080","tickSize":4,"labelFontSize":12,"labelPadding":2,"labelFlush":false,"labelOverlap":false}},"y2":{"datum":-68526}}},
{"data":{"values":[{}]},"mark":{"type":"rect","color":"#b4b4b4"},
 "encoding":{"x":{"datum":-2.143,"scale":{"domain":[-0.857,127.857],"nice":false,"zero":false},"axis":null},"x2":{"datum":135.43},
 "y":{"datum":-50253,"scale":{"domain":[0,217000],"nice":false,"zero":false},"axis":{"orient":"right","values":[50000,100000,150000,200000],"format":"d","grid":false,"title":null,"labelColor":"#000080","tickColor":"#000080","domainColor":"#000080","tickSize":4,"labelFontSize":12,"labelPadding":2,"labelFlush":false,"labelOverlap":false}},"y2":{"datum":-68526}}},
{"data":{"values":[{}]},"mark":{"type":"rect","color":"#ffffff"},
 "encoding":{"x":{"datum":-2.143,"scale":{"domain":[-0.857,127.857],"nice":false,"zero":false},"axis":null},"x2":{"datum":136.143},
 "y":{"datum":-68526,"scale":{"domain":[0,217000],"nice":false,"zero":false},"axis":{"orient":"right","values":[50000,100000,150000,200000],"format":"d","grid":false,"title":null,"labelColor":"#000080","tickColor":"#000080","domainColor":"#000080","tickSize":4,"labelFontSize":12,"labelPadding":2,"labelFlush":false,"labelOverlap":false}},"y2":{"datum":-146200}}},
{"data":{"name":"sep"},"mark":{"type":"rule","color":"#808080","strokeDash":[1,2],"strokeWidth":1},
 "encoding":{"x":{"field":"i","type":"quantitative","scale":{"domain":[-0.857,127.857],"nice":false,"zero":false},"axis":null,"title":null},
 "y":{"datum":0,"scale":{"domain":[0,217000],"nice":false,"zero":false},"axis":{"orient":"right","values":[50000,100000,150000,200000],"format":"d","grid":false,"title":null,"labelColor":"#000080","tickColor":"#000080","domainColor":"#000080","tickSize":4,"labelFontSize":12,"labelPadding":2,"labelFlush":false,"labelOverlap":false}},"y2":{"datum":185000}}},
{"data":{"name":"bars"},"mark":{"type":"bar","size":3},
 "encoding":{"x":{"field":"i","type":"quantitative","scale":{"domain":[-0.857,127.857],"nice":false,"zero":false},"axis":null,"title":null},
 "y":{"field":"v","type":"quantitative","scale":{"domain":[0,217000],"nice":false,"zero":false},"title":null,"axis":{"orient":"right","values":[50000,100000,150000,200000],"format":"d","grid":false,"title":null,"labelColor":"#000080","tickColor":"#000080","domainColor":"#000080","tickSize":4,"labelFontSize":12,"labelPadding":2,"labelFlush":false,"labelOverlap":false}},
 "color":{"field":"d","type":"nominal","scale":{"domain":["g","b"],"range":["#00a651","#0000a0"]},"legend":null}}},
{"data":{"name":"vt"},"mark":{"type":"text","align":"left","baseline":"middle","fontSize":12,"color":"#303090"},
 "encoding":{"x":{"field":"i","type":"quantitative","scale":{"domain":[-0.857,127.857],"nice":false,"zero":false},"axis":null,"title":null},
 "y":{"field":"v","type":"quantitative","scale":{"domain":[0,217000],"nice":false,"zero":false},"title":null,"axis":{"orient":"right","values":[50000,100000,150000,200000],"format":"d","grid":false,"title":null,"labelColor":"#000080","tickColor":"#000080","domainColor":"#000080","tickSize":4,"labelFontSize":12,"labelPadding":2,"labelFlush":false,"labelOverlap":false}},
 "text":{"field":"t"}}},
{"data":{"name":"xl"},"transform":[{"filter":"datum.k==='hour'"}],"mark":{"type":"rule","color":"#000080","strokeWidth":1},
 "encoding":{"x":{"field":"i","type":"quantitative","scale":{"domain":[-0.857,127.857],"nice":false,"zero":false},"axis":null,"title":null},
 "y":{"datum":0,"scale":{"domain":[0,217000],"nice":false,"zero":false},"axis":{"orient":"right","values":[50000,100000,150000,200000],"format":"d","grid":false,"title":null,"labelColor":"#000080","tickColor":"#000080","domainColor":"#000080","tickSize":4,"labelFontSize":12,"labelPadding":2,"labelFlush":false,"labelOverlap":false}},"y2":{"datum":-10000}}},
{"data":{"name":"xl"},"transform":[{"filter":"datum.k==='date'"}],"mark":{"type":"bar","color":"#000070"},
 "encoding":{"x":{"field":"i","type":"quantitative","scale":{"domain":[-0.857,127.857],"nice":false,"zero":false},"axis":null,"title":null},
 "y":{"datum":-9821,"scale":{"domain":[0,217000],"nice":false,"zero":false},"axis":{"orient":"right","values":[50000,100000,150000,200000],"format":"d","grid":false,"title":null,"labelColor":"#000080","tickColor":"#000080","domainColor":"#000080","tickSize":4,"labelFontSize":12,"labelPadding":2,"labelFlush":false,"labelOverlap":false}},"y2":{"datum":-44084},
 "size":{"condition":{"test":"length(datum.t)==5","value":32},"value":27}}},
{"data":{"name":"xl"},"mark":{"type":"text","align":"center","baseline":"middle","fontSize":12},
 "encoding":{"x":{"field":"i","type":"quantitative","scale":{"domain":[-0.857,127.857],"nice":false,"zero":false},"axis":null,"title":null},
 "y":{"datum":-27410,"scale":{"domain":[0,217000],"nice":false,"zero":false},"axis":{"orient":"right","values":[50000,100000,150000,200000],"format":"d","grid":false,"title":null,"labelColor":"#000080","tickColor":"#000080","domainColor":"#000080","tickSize":4,"labelFontSize":12,"labelPadding":2,"labelFlush":false,"labelOverlap":false}},
 "text":{"field":"t"},
 "color":{"condition":{"test":"datum.k==='date'","value":"#ffffff"},"value":"#000080"}}},
{"data":{"name":"badge"},"mark":{"type":"bar","color":"#00c800","size":13},
 "encoding":{"x":{"field":"i","type":"quantitative","scale":{"domain":[-0.857,127.857],"nice":false,"zero":false},"axis":null,"title":null},
 "y":{"datum":-9821,"scale":{"domain":[0,217000],"nice":false,"zero":false},"axis":{"orient":"right","values":[50000,100000,150000,200000],"format":"d","grid":false,"title":null,"labelColor":"#000080","tickColor":"#000080","domainColor":"#000080","tickSize":4,"labelFontSize":12,"labelPadding":2,"labelFlush":false,"labelOverlap":false}},"y2":{"datum":-44084}}},
{"data":{"name":"badge"},"mark":{"type":"text","align":"center","baseline":"middle","fontSize":12,"color":"#000080"},
 "encoding":{"x":{"field":"i","type":"quantitative","scale":{"domain":[-0.857,127.857],"nice":false,"zero":false},"axis":null,"title":null},
 "y":{"datum":-27410,"scale":{"domain":[0,217000],"nice":false,"zero":false},"axis":{"orient":"right","values":[50000,100000,150000,200000],"format":"d","grid":false,"title":null,"labelColor":"#000080","tickColor":"#000080","domainColor":"#000080","tickSize":4,"labelFontSize":12,"labelPadding":2,"labelFlush":false,"labelOverlap":false}},
 "text":{"field":"t"}}},
{"data":{"name":"ts"},"mark":{"type":"text","align":"center","baseline":"middle","fontSize":12,"color":"#000000"},
 "encoding":{"x":{"field":"i","type":"quantitative","scale":{"domain":[-0.857,127.857],"nice":false,"zero":false},"axis":null,"title":null},
 "y":{"field":"v","type":"quantitative","scale":{"domain":[0,217000],"nice":false,"zero":false},"title":null,"axis":{"orient":"right","values":[50000,100000,150000,200000],"format":"d","grid":false,"title":null,"labelColor":"#000080","tickColor":"#000080","domainColor":"#000080","tickSize":4,"labelFontSize":12,"labelPadding":2,"labelFlush":false,"labelOverlap":false}},
 "text":{"field":"t"}}}
]
}
]
}
